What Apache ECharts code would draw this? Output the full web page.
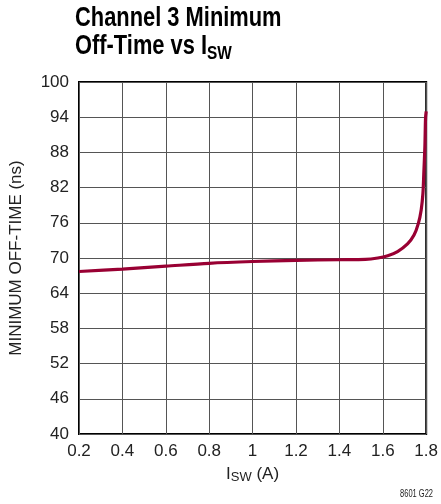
<!DOCTYPE html>
<html><head><meta charset="utf-8">
<script src="https://cdn.jsdelivr.net/npm/echarts@6/dist/echarts.min.js"></script>
<style>html,body{margin:0;padding:0;background:#fff}#c{width:441px;height:504px}</style>
</head><body><div id="c"></div>
<script>
const isw = [0.2, 0.4, 0.6, 0.8, 1.0, 1.2, 1.4, 1.52, 1.577, 1.623, 1.668, 1.714, 1.744, 1.764, 1.777, 1.785, 1.789, 1.794, 1.797, 1.8];
const offTime = [67.7, 68.1, 68.6, 69.1, 69.4, 69.6, 69.7, 69.75, 70.0, 70.4, 71.1, 72.4, 73.9, 75.9, 78.2, 81.0, 84.4, 89.0, 93.8, 95.0];
const yTickOffsets = [0, 6, 12, 18, 24, 30, 36, 42, 48, 54, 60];
const yBase = 40;

const chart = echarts.init(document.getElementById('c'), null, {renderer: 'canvas'});
const font = '"Liberation Sans", Arial, sans-serif';
chart.setOption({
  animation: false,
  graphic: [{
    type: 'text', left: 75, top: 5, scaleX: 0.81,
    style: {
      text: '{t|Channel 3 Minimum}\n{t|Off-Time vs I}{s|SW}',
      rich: {
        t: {fontFamily: font, fontWeight: 'bold', fontSize: 27, fill: '#000', lineHeight: 28},
        s: {fontFamily: font, fontWeight: 'bold', fontSize: 19, fill: '#000', lineHeight: 28, padding: [14, 0, 0, 0]}
      }
    }
  }, {
    type: 'text', right: 8, top: 489, scaleX: 0.75,
    style: {text: '8601 G22', fontFamily: font, fontSize: 10, fill: '#222'}
  }],
  grid: {left: 77, right: 12, top: 82, bottom: 70, show: true, borderColor: '#000', borderWidth: 2},
  xAxis: {
    type: 'value', min: 0.2, max: 1.8, interval: 0.2,
    name: '{i|I}{s|SW}{i| (A)}', nameLocation: 'middle', nameGap: 30,
    nameTextStyle: {rich: {
      i: {fontFamily: font, fontSize: 17, color: '#222'},
      s: {fontFamily: font, fontSize: 13, color: '#222', padding: [7, 0, 0, 0]}
    }},
    axisLine: {show: false}, axisTick: {show: false},
    axisLabel: {fontFamily: font, fontSize: 17, color: '#222', margin: 9},
    splitLine: {show: true, lineStyle: {color: '#555', width: 1}}
  },
  yAxis: [{
    type: 'value', min: 40, max: 100,
    axisLine: {show: false}, axisTick: {show: false},
    axisLabel: {show: false}, splitLine: {show: false}
  }, {
    type: 'value', min: 0, max: 60, interval: 6, position: 'left',
    name: 'MINIMUM OFF-TIME (ns)', nameLocation: 'middle', nameGap: 54, nameRotate: 90,
    nameTextStyle: {fontFamily: font, fontSize: 17, color: '#222'},
    axisLine: {show: false}, axisTick: {show: false},
    axisLabel: {fontFamily: font, fontSize: 17, color: '#222', margin: 10,
      formatter: v => String(v + yBase)},
    splitLine: {show: true, lineStyle: {color: '#555', width: 1}}
  }],
  series: [{
    type: 'line', yAxisIndex: 0,
    data: isw.map((x, i) => [x, offTime[i]]),
    smooth: 0.3, symbol: 'none',
    lineStyle: {color: '#990033', width: 3.2}
  }]
});
</script></body></html>
